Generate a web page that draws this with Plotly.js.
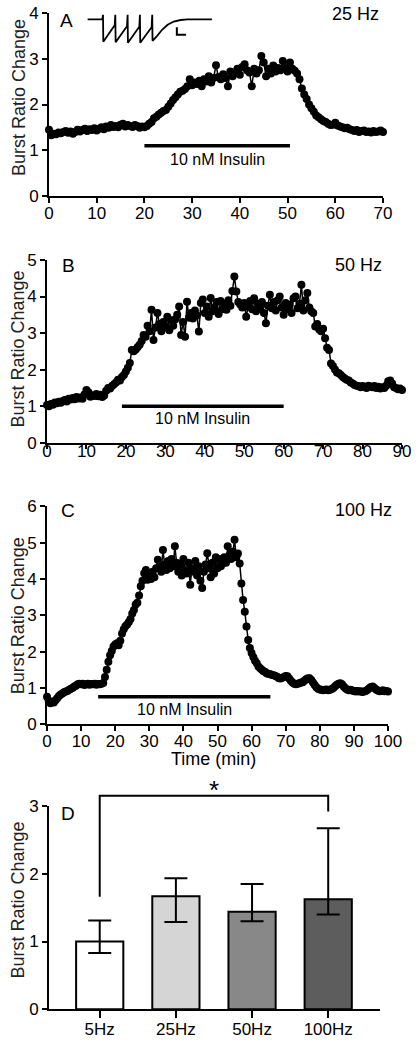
<!DOCTYPE html>
<html>
<head>
<meta charset="utf-8">
<script src="https://cdn.plot.ly/plotly-3.0.1.min.js"></script>
<style>html,body{margin:0;padding:0;background:#fff;}#chart{width:416px;height:1050px;}</style>
</head>
<body>
<div id="chart"></div>
<script>
// ---------------- DATA ----------------
// Panel A (25 Hz): sampled every 0.5 min from 0 to 70 min
var burstA = [
 1.45,1.33,1.36,1.35,1.39,1.37,1.40,1.42,1.38,1.41,
 1.36,1.40,1.45,1.41,1.44,1.47,1.42,1.46,1.44,1.48,
 1.43,1.47,1.50,1.46,1.52,1.49,1.55,1.51,1.53,1.50,
 1.56,1.58,1.52,1.55,1.53,1.51,1.55,1.53,1.49,1.52,
 1.50,1.53,1.58,1.62,1.70,1.73,1.78,1.82,1.86,1.88,
 1.95,2.02,2.10,2.16,2.22,2.28,2.30,2.34,2.40,2.55,
 2.42,2.48,2.45,2.52,2.40,2.55,2.50,2.62,2.48,2.58,
 2.86,2.60,2.55,2.66,2.58,2.40,2.72,2.62,2.70,2.78,
 2.65,2.82,2.88,2.75,2.70,2.40,2.78,2.68,2.75,3.06,
 2.92,2.62,2.78,2.68,2.85,2.72,2.80,2.75,2.95,2.80,
 2.72,2.92,2.78,2.74,2.68,2.55,2.35,2.22,2.12,2.00,
 1.92,1.84,1.76,1.72,1.68,1.64,1.62,1.58,1.55,1.56,
 1.60,1.54,1.52,1.50,1.48,1.49,1.46,1.44,1.42,1.44,
 1.40,1.42,1.43,1.40,1.41,1.39,1.42,1.40,1.41,1.43,
 1.40
];
// Panel B (50 Hz): every 0.5 min from 0 to 90 min
var burstB = [
 1.03,1.00,1.06,1.04,1.10,1.08,1.12,1.09,1.14,1.17,
 1.13,1.20,1.18,1.22,1.19,1.25,1.21,1.24,1.20,1.32,
 1.44,1.38,1.26,1.30,1.28,1.33,1.27,1.31,1.25,1.29,
 1.42,1.50,1.48,1.55,1.60,1.65,1.72,1.70,1.80,1.85,
 1.95,2.05,2.18,2.54,2.50,2.55,2.62,2.68,2.78,2.95,
 2.90,3.20,3.05,3.64,2.81,3.15,3.55,3.25,3.05,3.30,
 3.18,3.45,3.08,3.35,3.20,3.37,3.50,3.73,2.95,3.30,
 2.90,3.86,3.42,3.55,3.40,3.62,3.48,3.04,3.82,3.92,
 3.55,3.73,3.45,3.96,3.60,3.70,3.85,3.52,3.88,3.65,
 3.80,3.64,3.90,3.75,4.15,4.55,4.14,3.85,3.78,3.70,
 3.82,3.45,3.72,3.88,3.65,3.95,3.60,3.80,3.70,3.85,
 3.55,3.27,3.75,4.05,3.68,3.85,3.62,3.90,4.00,3.70,
 3.50,3.82,3.65,3.78,3.55,3.95,4.00,3.68,3.80,4.32,
 3.62,3.90,4.10,3.70,3.60,3.55,3.18,3.25,3.10,3.05,
 3.12,2.86,2.60,2.54,2.17,2.10,2.00,1.92,1.90,1.85,
 1.80,1.76,1.72,1.70,1.65,1.62,1.58,1.56,1.55,1.52,
 1.55,1.53,1.50,1.56,1.54,1.52,1.55,1.50,1.53,1.48,
 1.52,1.50,1.56,1.68,1.70,1.62,1.52,1.50,1.46,1.48,
 1.44
];
// Panel C (100 Hz): every 0.5 min from 0 to 100 min
var burstC = [
 0.76,0.65,0.58,0.62,0.60,0.66,0.72,0.78,0.82,0.85,
 0.88,0.90,0.92,0.95,0.98,1.00,1.04,1.06,1.10,1.12,
 1.10,1.12,1.08,1.10,1.12,1.09,1.11,1.10,1.12,1.09,
 1.11,1.10,1.12,1.14,1.30,1.50,1.72,1.90,2.02,2.14,
 2.20,2.23,2.18,2.30,2.50,2.62,2.70,2.75,2.82,2.90,
 3.05,3.15,3.30,3.35,3.55,3.80,3.95,4.16,4.25,3.98,
 4.10,4.00,4.20,4.05,4.30,4.53,4.35,4.20,4.80,4.40,
 4.25,4.50,4.30,4.55,4.35,4.90,4.45,4.20,4.40,4.10,
 4.55,4.25,4.15,4.45,3.84,4.30,4.20,4.50,4.10,4.35,
 3.95,3.75,4.20,4.40,4.71,4.30,4.05,4.45,4.15,4.60,
 4.30,4.55,4.35,4.43,4.60,4.45,4.90,4.65,4.55,4.75,
 5.08,4.60,4.70,4.43,3.88,3.42,3.10,2.69,2.32,2.10,
 1.96,1.85,1.75,1.68,1.59,1.54,1.50,1.46,1.44,1.40,
 1.39,1.38,1.36,1.35,1.33,1.31,1.27,1.26,1.28,1.30,
 1.33,1.32,1.26,1.20,1.15,1.12,1.10,1.12,1.13,1.15,
 1.16,1.20,1.24,1.27,1.27,1.22,1.15,1.08,1.02,0.98,
 0.96,0.95,0.94,0.95,0.96,0.94,0.95,0.97,1.00,1.05,
 1.09,1.12,1.13,1.10,1.04,0.99,0.96,0.94,0.95,0.93,
 0.92,0.90,0.92,0.90,0.91,0.89,0.90,0.92,0.95,0.99,
 1.03,1.04,1.00,0.96,0.93,0.91,0.92,0.94,0.91,0.92,
 0.90
];
var sampleStep = 0.5;   // min between samples

// Insulin application windows (min) and the level the bar is drawn at
var insulinA = [20, 50.5], insulinLevelA = [1.1, 1.1];
var insulinB = [19, 60],   insulinLevelB = [1.0, 1.0];
var insulinC = [15, 65.5], insulinLevelC = [0.76, 0.76];
var insulinLabel = '10 nM Insulin';

// Inset: example evoked current trace for 25 Hz (ms, pA)
var insetTime    = [-50,-2,0,1,38,40,41,78,80,81,118,120,121,158,160,161,176,192,210,230,252,275,354];
var insetCurrent = [0,0,45,-225,-60,45,-230,-70,45,-235,-75,45,-235,-80,45,-215,-165,-105,-55,-22,-7,0,0];
var scaleBarTime = [240, 240, 270];
var scaleBarCurrent = [-80, -155, -155];

// Panel D
var freqLabels = ['5Hz', '25Hz', '50Hz', '100Hz'];
var meanRatio  = [1.00, 1.67, 1.44, 1.625];
var errUpper   = [0.31, 0.265, 0.41, 1.045];
var errLower   = [0.17, 0.38, 0.14, 0.225];
var barColors  = ['#ffffff', '#d5d5d5', '#888888', '#5d5d5d'];
var sigPairX   = [0, 0, 3, 3];
var sigPairY   = [1.66, 3.15, 3.15, 2.92];

// ---------------- LAYOUT HELPERS ----------------
var W = 416, H = 1050;
function fx(px){ return px / W; }
function fy(py){ return 1 - py / H; }
var FONT = 'Liberation Sans, Arial, sans-serif';

function tsAxis(dom, rng, dtick, anchor, extra){
  var a = {domain: dom, range: rng, dtick: dtick, tick0: 0, anchor: anchor,
    showgrid:false, zeroline:false, showline:true, linecolor:'#000', linewidth:2,
    ticks:'outside', ticklen:5, tickwidth:2, tickcolor:'#000',
    tickfont:{family:FONT, size:17, color:'#000'}, fixedrange:true};
  return Object.assign(a, extra || {});
}

var lineStyle = {color:'#000', width:1.5};
var markerStyle = {color:'#000', size:8};

var traces = [
  {type:'scatter', mode:'lines+markers', x0:0, dx:sampleStep, y:burstA, xaxis:'x', yaxis:'y',
   line:lineStyle, marker:markerStyle, cliponaxis:false, showlegend:false, hoverinfo:'none'},
  {type:'scatter', mode:'lines+markers', x0:0, dx:sampleStep, y:burstB, xaxis:'x2', yaxis:'y2',
   line:lineStyle, marker:markerStyle, cliponaxis:false, showlegend:false, hoverinfo:'none'},
  {type:'scatter', mode:'lines+markers', x0:0, dx:sampleStep, y:burstC, xaxis:'x3', yaxis:'y3',
   line:lineStyle, marker:markerStyle, cliponaxis:false, showlegend:false, hoverinfo:'none'},
  {type:'scatter', mode:'lines', x:insulinA, y:insulinLevelA, xaxis:'x', yaxis:'y',
   line:{color:'#000', width:3.5}, showlegend:false, hoverinfo:'none'},
  {type:'scatter', mode:'lines', x:insulinB, y:insulinLevelB, xaxis:'x2', yaxis:'y2',
   line:{color:'#000', width:3.5}, showlegend:false, hoverinfo:'none'},
  {type:'scatter', mode:'lines', x:insulinC, y:insulinLevelC, xaxis:'x3', yaxis:'y3',
   line:{color:'#000', width:3.5}, showlegend:false, hoverinfo:'none'},
  {type:'scatter', mode:'lines', x:insetTime, y:insetCurrent, xaxis:'x5', yaxis:'y5',
   line:{color:'#000', width:1.8}, showlegend:false, hoverinfo:'none'},
  {type:'scatter', mode:'lines', x:scaleBarTime, y:scaleBarCurrent, xaxis:'x5', yaxis:'y5',
   line:{color:'#000', width:2}, showlegend:false, hoverinfo:'none'},
  {type:'bar', x:freqLabels, y:meanRatio, xaxis:'x4', yaxis:'y4', width:0.62,
   marker:{color:barColors, line:{color:'#000', width:2}},
   error_y:{type:'data', symmetric:false, array:errUpper, arrayminus:errLower,
            color:'#000', thickness:2, width:11.5},
   showlegend:false, hoverinfo:'none'},
  {type:'scatter', mode:'lines', x:sigPairX, y:sigPairY, xaxis:'x6', yaxis:'y6',
   line:{color:'#000', width:2}, showlegend:false, hoverinfo:'none'}
];

var domA = {x:[fx(49), fx(383)], y:[fy(196), fy(13)]};
var domB = {x:[fx(47), fx(402)], y:[fy(442.7), fy(260)]};
var domC = {x:[fx(47), fx(388)], y:[fy(724.3), fy(506.4)]};
var domD = {x:[fx(49), fx(380)], y:[fy(1009.3), fy(806)]};

var layout = {
  width: W, height: H, autosize:false,
  margin:{l:0, r:0, t:0, b:0, pad:0},
  paper_bgcolor:'#fff', plot_bgcolor:'rgba(0,0,0,0)',
  showlegend:false,
  xaxis:  tsAxis(domA.x, [0,70], 10, 'y', {ticklen:5, ticklabelstandoff:-4}),
  yaxis:  tsAxis(domA.y, [0,4], 1, 'x'),
  xaxis2: tsAxis(domB.x, [0,90], 10, 'y2', {ticklen:4, ticklabelstandoff:-12}),
  yaxis2: tsAxis(domB.y, [0,5], 1, 'x2'),
  xaxis3: tsAxis(domC.x, [0,100], 10, 'y3', {ticklen:5, ticklabelstandoff:-5}),
  yaxis3: tsAxis(domC.y, [0,6], 1, 'x3'),
  xaxis4: tsAxis(domD.x, [-0.666, 3.68], 1, 'y4', {type:'category', ticklen:7, ticklabelstandoff:-4}),
  yaxis4: tsAxis(domD.y, [0,3], 1, 'x4'),
  xaxis5: {domain:[fx(85), fx(215)], range:[-58.5, 364], anchor:'y5', visible:false, fixedrange:true},
  yaxis5: {domain:[fy(45), fy(5)], range:[-257, 143], anchor:'x5', visible:false, fixedrange:true},
  xaxis6: {domain:domD.x, range:[-0.666, 3.68], anchor:'y6', visible:false, fixedrange:true},
  yaxis6: {domain:[fy(1009.3), fy(778.9)], range:[0, 3.4], anchor:'x6', visible:false, fixedrange:true},
  bargap:0.3,
  annotations: []
};

function ann(text, x, y, size, extra){
  var a = {text:text, x:x, y:y, xref:'paper', yref:'paper', showarrow:false,
           xanchor:'center', yanchor:'middle', font:{family:FONT, size:size, color:'#000'}};
  return Object.assign(a, extra || {});
}
var A = layout.annotations;
var titleFont = {family:FONT, size:18, color:'#222'};
// y-axis titles
A.push(ann('Burst Ratio Change', fx(18.5), fy(97.5), 18, {textangle:-90, font:titleFont}));
A.push(ann('Burst Ratio Change', fx(17.5), fy(349), 18, {textangle:-90, font:titleFont}));
A.push(ann('Burst Ratio Change', fx(17.5), fy(615.8), 18, {textangle:-90, font:titleFont}));
A.push(ann('Burst Ratio Change', fx(17.5), fy(900), 18, {textangle:-90, font:titleFont}));
A.push(ann('Time (min)', fx(214), fy(759), 18));
// panel letters and frequencies
A.push(ann('A', fx(66), fy(20), 19));
A.push(ann('25 Hz', fx(355), fy(14), 18));
A.push(ann('B', fx(68), fy(265), 19));
A.push(ann('50 Hz', fx(358), fy(265), 18));
A.push(ann('C', fx(68), fy(510), 19));
A.push(ann('100 Hz', fx(363), fy(510), 18));
A.push(ann('D', fx(68), fy(813), 19));
// insulin labels (under the bars, in data coordinates)
A.push({text:insulinLabel, x:(insulinA[0]+insulinA[1])/2, y:insulinLevelA[0], xref:'x', yref:'y',
        showarrow:false, yanchor:'top', yshift:-3, font:{family:FONT, size:16, color:'#000'}});
A.push({text:insulinLabel, x:(insulinB[0]+insulinB[1])/2, y:insulinLevelB[0], xref:'x2', yref:'y2',
        showarrow:false, yanchor:'top', yshift:-2, font:{family:FONT, size:16, color:'#000'}});
A.push({text:insulinLabel, x:(insulinC[0]+insulinC[1])/2, y:insulinLevelC[0], xref:'x3', yref:'y3',
        showarrow:false, yanchor:'top', yshift:-2, font:{family:FONT, size:16, color:'#000'}});
// significance star
A.push({text:'*', x:(sigPairX[0]+sigPairX[3])/2, y:sigPairY[1], xref:'x6', yref:'y6',
        showarrow:false, yanchor:'bottom', yshift:-11, font:{family:FONT, size:26, color:'#000'}});

Plotly.newPlot('chart', traces, layout, {displayModeBar:false, staticPlot:true});
</script>
</body>
</html>
